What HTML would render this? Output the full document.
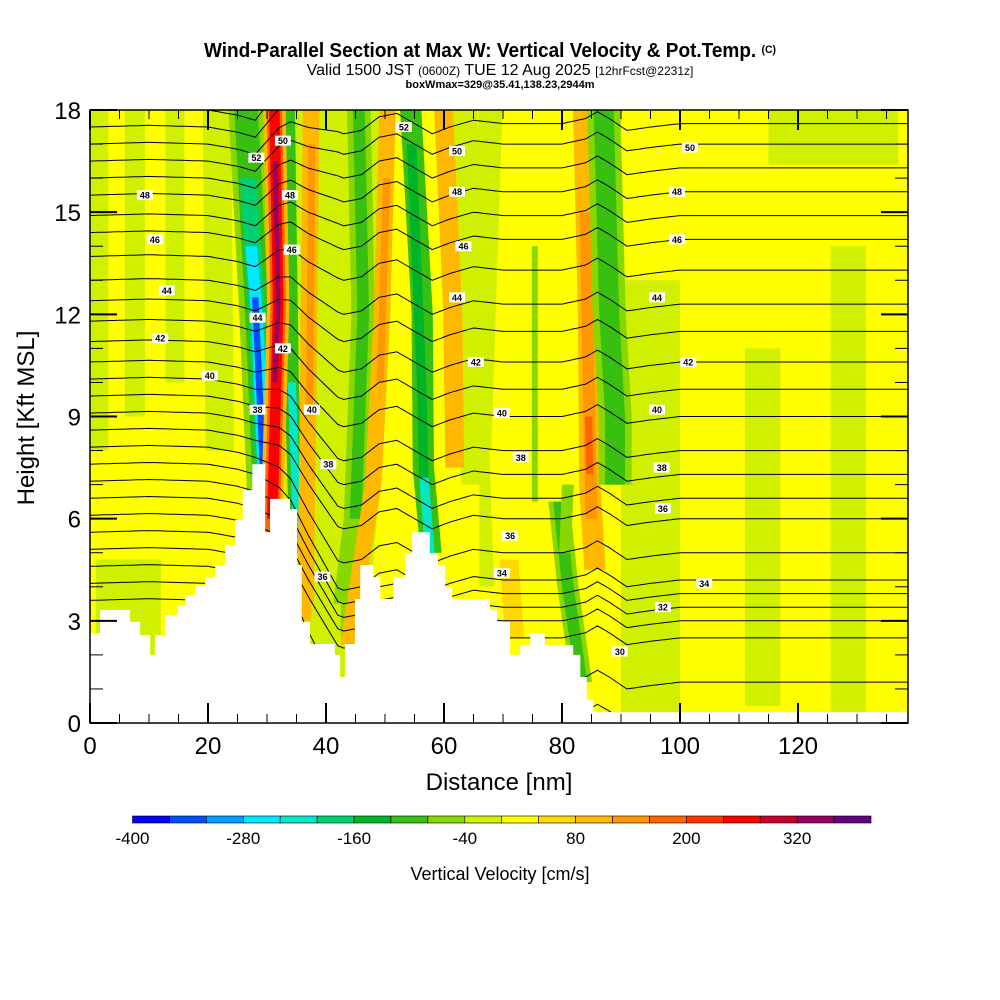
<!DOCTYPE html>
<html><head><meta charset="utf-8"><style>
body{margin:0;background:#fff;}
svg{display:block;font-family:"Liberation Sans",sans-serif;}
</style></head><body>
<svg id="chart" width="1000" height="1000" viewBox="0 0 1000 1000" xmlns="http://www.w3.org/2000/svg">
<defs><clipPath id="plotclip"><rect x="90" y="110" width="818" height="613"/></clipPath></defs>
<g>
<text x="490" y="57" text-anchor="middle" font-size="20" font-weight="bold" transform="translate(490,0) scale(0.95,1) translate(-490,0)">Wind-Parallel Section at Max W: Vertical Velocity &amp; Pot.Temp. <tspan font-size="11" dy="-4">(C)</tspan></text>
<text x="500" y="75" text-anchor="middle" font-size="16">Valid 1500 JST <tspan font-size="12">(0600Z)</tspan> TUE 12 Aug 2025 <tspan font-size="12">[12hrFcst@2231z]</tspan></text>
<text x="500" y="88" text-anchor="middle" font-size="11" font-weight="bold">boxWmax=329@35.41,138.23,2944m</text>
</g>
<g id="field" clip-path="url(#plotclip)"></g>
<g id="contours" clip-path="url(#plotclip)"></g>
<g id="terrain" clip-path="url(#plotclip)"></g>
<g id="clabels" clip-path="url(#plotclip)"></g>
<g id="axes"></g>
<g id="cbar"></g>
<text x="499" y="790" text-anchor="middle" font-size="24">Distance [nm]</text>
<text x="0" y="0" text-anchor="middle" font-size="24" transform="translate(34,418) rotate(-90)">Height [Kft MSL]</text>
<text x="500" y="880" text-anchor="middle" font-size="18">Vertical Velocity [cm/s]</text>
</svg>
<script>
const binColors=["#0000ff","#0050ff","#00a0ff","#00e8ff","#00e8c8","#00d070","#00b428","#38c010","#88d800","#d0f000","#ffff00","#ffd800","#ffb800","#ff9800","#ff6400","#ff3800","#ff0000","#c80030","#960060","#640080"];
const cbarTicks=[-400,-280,-160,-40,80,200,320];
const xTicks=[0,20,40,60,80,100,120];
const yTicks=[0,3,6,9,12,15,18];
const backgroundBin=10;
const bandBin=[9,9,9,9,9,9,9,9,9,9,8,9,10,10,11,
 8,7,5,3,1, 7,4, 12,14,16,18, 12,13, 8,7, 12,13, 7,6,4, 12, 8,12,13,14, 8,7, 8,7, 8, 9,9];
const bandHalf=[1.6,1.7,1.6,2.4,5.5,8,5,3,3,11,0.5,2.5,2.5,3,1.6,
 3.0,2.0,1.4,1.0,0.55, 1.2,0.7, 1.9,1.3,0.9,0.4, 1.4,0.6, 2.0,1.0, 1.4,0.6, 1.8,0.8,0.8, 1.6, 2.8,1.8,1.0,0.6, 2.8,1.7, 1.8,1.0, 1.0, 2.5,2.0];
const bandPts=[
 [[1.5,8],[1.5,18.5]],[[7.6,9],[7.6,18.5]],[[14.4,10],[14.4,18.5]],[[22,8],[21.5,18.5]],[[6.5,1.5],[6.5,4.8]],
 [[41,0],[41,18.5]],[[95,0],[95,13]],[[114,0.5],[114,11]],[[128.5,0],[128.5,14]],[[126,16.4],[126,18.5]],
 [[75.4,6.5],[75.4,14]],[[66,4],[63,18.5]],[[50,3.5],[52,8]],[[63,3.5],[63,7]],[[72,2.5],[71,4.8]],
 [[26.3,18.5],[28.3,12],[29.8,6]],[[26.3,18.5],[28.3,12],[29.8,6]],[[26.8,16],[28.3,12],[29.8,6]],[[27.3,14],[28.3,12],[29.6,6.5]],[[28.0,12.5],[29.2,8],[29.7,6.3]],
 [[33.5,18.5],[34.2,10],[35,5]],[[34.2,10],[34.8,7],[35.3,5]],
 [[31.2,18.5],[31.9,12.3],[30.8,5.6]],[[31.2,18.5],[31.9,12.3],[30.8,5.6]],[[31.2,18.5],[31.9,12.3],[30.9,6]],[[31.4,16.5],[31.9,12.3],[31.3,10]],
 [[37.5,18.5],[37,10],[36.5,3]],[[37.6,17],[37.2,9]],
 [[45.5,18.5],[46.3,12],[45,6],[42.5,2.5]],[[45.5,18.5],[46.3,12],[45,6]],
 [[50.5,18.5],[49.5,12],[48,7],[43.8,2.3]],[[50.3,16],[49.2,10]],
 [[54.2,18.5],[56.3,12],[56.5,7.5],[57.8,5]],[[54.5,17],[56.2,10],[56.6,7]],[[56.6,7.2],[57.6,5]],
 [[59.8,18.5],[61.5,12],[61.8,7.5]],
 [[87,18.5],[88,12],[89,9],[89,7]],[[83.6,18.5],[84.5,12],[84.7,7],[85.6,4.5]],[[84,15],[84.5,10],[85,6]],[[84.5,9],[84.7,7.3]],
 [[87,18.5],[88,12],[89,9],[89,7]],[[87,18.5],[88,12],[89,9],[89,7]],
 [[79.5,6.5],[81,4],[83.3,1.2]],[[79.5,6.5],[81,4],[83.3,1.2]],
 [[80.5,5],[81,7]],
 [[40,2],[40,3.5]],[[66,8],[68,18.5]]
];
const terrainX=[0,1.7,6.8,8.5,10.2,11.0,12.7,14.9,16.1,17.8,19.5,21.2,22.9,24.6,25.9,27.5,29.7,30.5,33.9,35.1,35.9,37.3,41.5,42.4,43.2,44.9,45.8,48.0,49.2,51.4,53.4,54.6,57.6,59.0,60.2,61.4,67.8,69.0,71.2,72.9,74.6,77.1,81.9,83.1,84.2,85.3,138.7];
const terrainH=[2.64,3.32,2.97,2.58,2.0,2.58,3.17,3.46,3.76,4.05,4.26,4.64,5.23,5.96,6.84,7.6,5.6,6.58,6.28,4.64,2.97,2.32,2.0,1.35,2.32,3.64,4.64,4.29,3.64,4.29,4.96,5.6,4.96,4.64,3.99,3.64,3.32,2.97,2.0,2.29,2.64,2.29,2.0,1.35,0.68,0.32,0.32];
const thetaLevels=[26,27,28,29,30,31,32,33,34,35,36,37,38,39,40,41,42,43,44,45,46,47,48,49,50,51,52,53];
const thetaLeft=[3.6,4.1,4.6,5.1,5.6,6.1,6.6,7.1,7.6,8.1,8.6,9.1,9.6,10.1,10.6,11.2,11.8,12.4,13.0,13.7,14.4,14.9,15.5,16.0,16.5,17.0,17.5,18.0];
const thetaRight=[-1,-0.5,0.2,1.2,2.5,3.0,3.4,3.8,4.2,5.0,6.0,6.6,7.3,8.0,9.0,9.8,10.6,11.5,12.3,13.3,14.2,14.9,15.6,16.3,17.0,17.6,18.3,19.0];
const waveX=[0,10,20,25,28,30,32,34,37,40,43,46,49,52,55,58,61,65,70,75,80,84,86,88,91,95,100,139];
const waveH=[0,0.05,0,-0.15,-0.3,0,0.3,0.4,0.1,-0.1,-0.3,-0.2,0.2,0.3,0,-0.3,-0.1,0.1,0,0,0,0.15,0.35,0.15,-0.2,-0.1,0,0];
const labelX=[9.3,11.0,13.0,11.9,20.3,28.2,32.7,33.9,34.2,28.4,32.7,28.4,37.6,40.4,39.4,53.2,62.2,62.2,63.3,62.2,65.4,69.8,73.0,71.2,69.8,101.7,99.5,99.5,96.1,101.4,96.1,96.9,97.1,104.1,97.1,89.8];
const labelH=[15.5,14.2,12.7,11.3,10.2,16.6,17.1,15.5,13.9,11.9,11.0,9.2,9.2,7.6,4.3,17.5,16.8,15.6,14.0,12.5,10.6,9.1,7.8,5.5,4.4,16.9,15.6,14.2,12.5,10.6,9.2,7.5,6.3,4.1,3.4,2.1];
const labelText=["48","46","44","42","40","52","50","48","46","44","42","38","40","38","36","52","50","48","46","44","42","40","38","36","34","50","48","46","44","42","40","38","36","34","32","30"];

const NS="http://www.w3.org/2000/svg";
const X0=90,X1=908,Y0=723,Y1=110,XMAX=138.64,YMAX=18;
function sx(v){return X0+v*(X1-X0)/XMAX;}
function sy(v){return Y0-v*(Y0-Y1)/YMAX;}
function mk(tag,attrs,parent){const e=document.createElementNS(NS,tag);for(const k in attrs)e.setAttribute(k,attrs[k]);parent.appendChild(e);return e;}
function interp(xs,ys,x){if(x<=xs[0])return ys[0];for(let i=1;i<xs.length;i++){if(x<=xs[i]){const t=(x-xs[i-1])/(xs[i]-xs[i-1]);return ys[i-1]+t*(ys[i]-ys[i-1]);}}return ys[ys.length-1];}

const field=document.getElementById('field');
const bg=mk('rect',{x:X0,y:Y1,width:X1-X0,height:Y0-Y1,fill:binColors[backgroundBin]},field);


bandPts.forEach((pts,i)=>{
  const hw=bandHalf[i];
  const left=pts.map(p=>sx(p[0]-hw).toFixed(1)+','+sy(p[1]).toFixed(1));
  const right=pts.slice().reverse().map(p=>sx(p[0]+hw).toFixed(1)+','+sy(p[1]).toFixed(1));
  const pg=mk('polygon',{points:left.concat(right).join(' '),fill:binColors[bandBin[i]]},field);
  
  
});

const cg=document.getElementById('contours');
thetaLevels.forEach((lv,i)=>{
  const pts=[];
  for(let x=0;x<=XMAX+0.5;x+=0.5){
    const t=Math.min(1,Math.max(0,(x-28)/14));
    const h=thetaLeft[i]*(1-t)+thetaRight[i]*t+interp(waveX,waveH,x);
    pts.push(sx(x).toFixed(1)+','+sy(h).toFixed(1));
  }
  const pl=mk('polyline',{points:pts.join(' '),fill:'none',stroke:'#000','stroke-width':1},cg);
  
  
});

const tg=document.getElementById('terrain');
let d='M'+sx(0)+','+sy(0);
for(let i=0;i<terrainX.length-1;i++){d+=' L'+sx(terrainX[i]).toFixed(1)+','+sy(terrainH[i]).toFixed(1)+' L'+sx(terrainX[i+1]).toFixed(1)+','+sy(terrainH[i]).toFixed(1);}
d+=' L'+sx(XMAX)+','+sy(0)+' Z';
const tp=mk('path',{d:d,fill:'#fff'},tg);



const lg=document.getElementById('clabels');
labelText.forEach((s,i)=>{
  const cx=sx(labelX[i]),cy=sy(labelH[i]);
  const g=mk('g',{},lg);
  
  
  mk('rect',{x:cx-8,y:cy-5,width:16,height:10,fill:'#fff'},g);
  const t=mk('text',{x:cx,y:cy+3.5,'text-anchor':'middle','font-size':9,'font-weight':'bold'},g);
  t.textContent=s;
});

const ag=document.getElementById('axes');
const fr=mk('rect',{x:X0,y:Y1,width:X1-X0,height:Y0-Y1,fill:'none',stroke:'#000','stroke-width':1.5},ag);


for(let v=0;v<=XMAX;v+=5){
  const x=sx(v),L=(v%20===0)?20:9;
  mk('line',{x1:x,y1:Y0,x2:x,y2:Y0-L,stroke:'#000','stroke-width':(v%20===0)?2:1},ag);
  mk('line',{x1:x,y1:Y1,x2:x,y2:Y1+L,stroke:'#000','stroke-width':(v%20===0)?2:1},ag);
}
for(let v=0;v<=YMAX;v+=1){
  const y=sy(v),L=(v%3===0)?27:13;
  mk('line',{x1:X0,y1:y,x2:X0+L,y2:y,stroke:'#000','stroke-width':(v%3===0)?2:1},ag);
  mk('line',{x1:X1,y1:y,x2:X1-L,y2:y,stroke:'#000','stroke-width':(v%3===0)?2:1},ag);
}
xTicks.forEach(v=>{
  const t=mk('text',{x:sx(v),y:754,'text-anchor':'middle','font-size':24},ag);
  
  
  t.textContent=v;
});
yTicks.forEach(v=>{
  const t=mk('text',{x:81,y:sy(v)+9,'text-anchor':'end','font-size':24},ag);
  
  
  t.textContent=v;
});

const cb=document.getElementById('cbar');
const CB0=132.5,CBW=(871-132.5)/20;
binColors.forEach((c,i)=>{
  const r=mk('rect',{x:CB0+i*CBW,y:816,width:CBW,height:7,fill:c,stroke:'#000','stroke-width':0.6},cb);
  
  
});
cbarTicks.forEach(v=>{
  const t=mk('text',{x:CB0+(v+400)/40*CBW,y:844,'text-anchor':'middle','font-size':17},cb);
  
  
  t.textContent=v;
});
</script>
</body></html>
